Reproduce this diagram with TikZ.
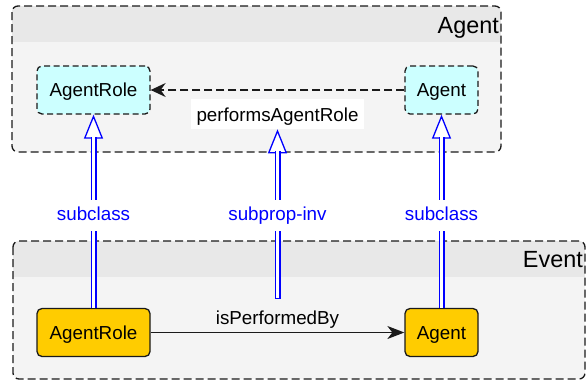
\documentclass[tikz,border=0pt]{standalone}
\usepackage{fontspec}
\setmainfont{Liberation Sans}
\usetikzlibrary{arrows.meta}
\definecolor{hdr}{HTML}{E8E8E8}
\definecolor{bodygrey}{HTML}{F4F4F4}
\definecolor{cyanfill}{HTML}{CCFFFF}
\definecolor{goldfill}{HTML}{FFCC00}
\definecolor{edge}{HTML}{1A1A1A}
\definecolor{linkblue}{HTML}{0000FF}

\begin{document}
\begin{tikzpicture}[x=1pt,y=-1pt,
  txt/.style={font=\fontsize{18.8}{22}\selectfont},
  bigtxt/.style={font=\fontsize{23.4}{27}\selectfont},
  cls/.style={txt, rounded corners=5pt, line width=1.3pt, draw=edge,
              minimum height=48pt, inner sep=0pt, text height=13.5pt, text depth=0pt},
  ext/.style={cls, fill=cyanfill, dash pattern=on 6pt off 3.5pt},
  loc/.style={cls, fill=goldfill},
  frameline/.style={draw=edge, line width=1.3pt, dash pattern=on 8pt off 4pt,
                    rounded corners=6pt},
  sublabel/.style={txt, text=linkblue, fill=white, inner xsep=2pt, inner ysep=6.5pt,
                   text height=14pt, text depth=4pt},
  subshaft/.style={draw=linkblue, line width=1.3pt, double=white,
                   double distance=3.4pt, shorten >=22pt},
  subhead/.style={draw=linkblue, line width=1.3pt,
                  -{Triangle[length=24pt, width=19pt, fill=white]}},
  relline/.style={draw=edge, line width=1.3pt},
]
\useasboundingbox (0,0) rectangle (586,381);

% package frame: Agent
\fill[bodygrey, rounded corners=6pt] (12,6) rectangle (501,152);
\begin{scope}
  \clip[rounded corners=6pt] (12,6) rectangle (501,152);
  \fill[hdr] (12,6) rectangle (501,42);
\end{scope}
\draw[frameline] (12,6) rectangle (501,152);
\node[bigtxt, anchor=base east, inner sep=0pt] (agentpkg) at (499,33) {Agent};

% package frame: Event
\fill[bodygrey, rounded corners=6pt] (13,241) rectangle (585,379);
\begin{scope}
  \clip[rounded corners=6pt] (13,241) rectangle (585,379);
  \fill[hdr] (13,241) rectangle (585,277);
\end{scope}
\draw[frameline] (13,241) rectangle (585,379);
\node[bigtxt, anchor=base east, inner sep=0pt] (eventpkg) at (583,267) {Event};

% classes
\node[ext, minimum width=113pt] (arole) at (93.5,90) {AgentRole};
\node[ext, minimum width=73pt] (agent) at (441.5,90) {Agent};
\node[loc, minimum width=113pt] (erole) at (93.5,332.5) {AgentRole};
\node[loc, minimum width=73pt] (eagent) at (441.5,332.5) {Agent};

% properties
\draw[relline, dash pattern=on 8pt off 4pt,
      -{Stealth[length=15pt, width=14pt, inset=5pt]}]
  (agent) -- node[midway, below=8pt, txt, fill=white, inner xsep=5.5pt,
                  inner ysep=3pt, text height=20pt, text depth=4pt]
  (perf) {performsAgentRole} (arole);
\draw[relline, -{Stealth[length=17pt, width=13pt, inset=5pt]}]
  (erole) -- node[midway, above=3pt, inner sep=0pt, txt] (isp) {isPerformedBy} (eagent);

% subclass links
\draw[subhead] (erole) -- (arole);
\draw[subshaft] (erole) -- (arole);
\path (erole) -- node[sublabel, pos=0.479] (lblL) {subclass} (arole);

\draw[subhead] (eagent) -- (agent);
\draw[subshaft] (eagent) -- (agent);
\path (eagent) -- node[sublabel, pos=0.479] (lblR) {subclass} (agent);

% sub-property link
\coordinate (ispTop) at ([yshift=12pt]isp.north);
\draw[subhead] (ispTop) -- (perf.south);
\draw[subshaft] (ispTop) -- (perf.south);
\draw[linkblue, line width=1.3pt, line cap=rect]
  ([xshift=-2.35pt]ispTop) -- ([xshift=2.35pt]ispTop);
\path (ispTop) -- node[sublabel, pos=0.494] (lblM) {subprop-inv} (perf.south);
\end{tikzpicture}
\end{document}
